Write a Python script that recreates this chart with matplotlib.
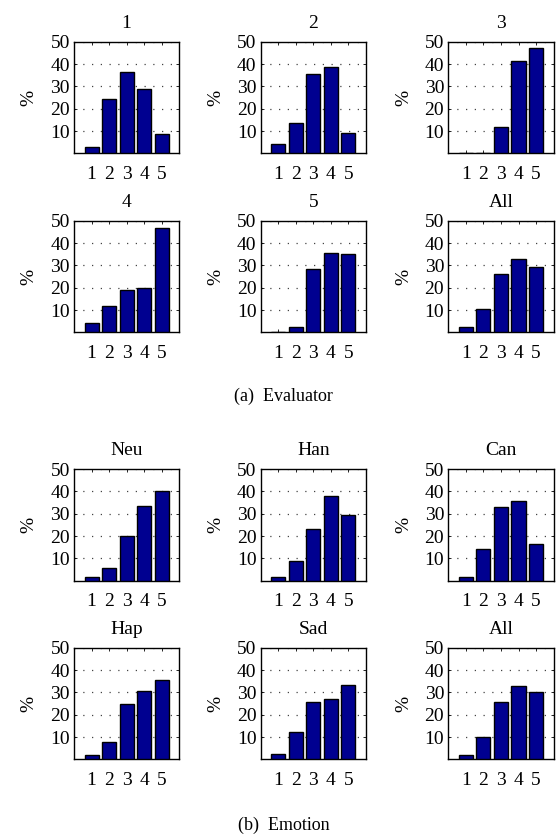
import matplotlib
matplotlib.use("Agg")
import matplotlib.pyplot as plt
import numpy as np

plt.rcParams['font.family'] = ['Liberation Serif', 'DejaVu Serif']
plt.rcParams['mathtext.fontset'] = 'stix'

categories = [1, 2, 3, 4, 5]

evaluator_titles = ["1", "2", "3", "4", "5", "All"]
ev_1 = [3.0, 24.3, 36.3, 28.7, 8.8]
ev_2 = [4.2, 13.6, 35.5, 38.8, 9.1]
ev_3 = [0.1, 0.3, 11.8, 41.5, 47.0]
ev_4 = [4.2, 11.6, 19.0, 19.7, 46.6]
ev_5 = [0.1, 2.4, 28.4, 35.4, 34.9]
ev_all = [2.4, 10.4, 26.1, 32.8, 29.4]

emotion_titles = ["Neu", "Han", "Can", "Hap", "Sad", "All"]
em_neu = [1.6, 5.5, 20.1, 33.6, 40.0]
em_han = [1.6, 9.0, 23.1, 37.8, 29.4]
em_can = [1.6, 14.0, 33.1, 35.7, 16.6]
em_hap = [2.1, 7.9, 24.8, 30.4, 35.4]
em_sad = [2.4, 12.2, 25.8, 27.2, 33.4]
em_all = [1.8, 10.1, 25.8, 32.8, 30.1]

yticks = [10, 20, 30, 40, 50]

W, H = 558, 836
fig = plt.figure(figsize=(W / 100, H / 100), dpi=100)

col_left = [74, 260.7, 448.3]
ax_w = 105.3
row_top = [41.7, 220.7, 469.0, 647.7]
ax_h = 111.7

panels = [
    (evaluator_titles[0], ev_1), (evaluator_titles[1], ev_2), (evaluator_titles[2], ev_3),
    (evaluator_titles[3], ev_4), (evaluator_titles[4], ev_5), (evaluator_titles[5], ev_all),
    (emotion_titles[0], em_neu), (emotion_titles[1], em_han), (emotion_titles[2], em_can),
    (emotion_titles[3], em_hap), (emotion_titles[4], em_sad), (emotion_titles[5], em_all),
]

fs = 14
for i, (title, vals) in enumerate(panels):
    r, c = divmod(i, 3)
    x0 = col_left[c] / W
    y0 = 1 - (row_top[r] + ax_h) / H
    ax = fig.add_axes([x0, y0, ax_w / W, ax_h / H])
    ax.bar(categories, vals, width=0.8, color='#000090', edgecolor='black', linewidth=1.0, zorder=3)
    ax.set_xlim(0, 6)
    ax.set_ylim(0, 50)
    ax.set_xticks(categories)
    ax.set_yticks(yticks)
    ax.tick_params(direction='in', length=2.5, width=0.6, top=True, right=True,
                   labelsize=fs)
    ax.tick_params(axis='x', pad=9)
    ax.tick_params(axis='y', pad=3)
    ax.yaxis.grid(True, linestyle=(0, (1, 6)), color='#444444', linewidth=0.9, zorder=1)
    for s in ax.spines.values():
        s.set_linewidth(1.0)
    ax.set_title(title, fontsize=fs, pad=10)
    ax.set_ylabel('%', fontsize=fs, labelpad=9)

fig.text(0.508, 1 - 396 / H, '(a)  Evaluator', ha='center', va='center', fontsize=13)
fig.text(0.508, 1 - 825 / H, '(b)  Emotion', ha='center', va='center', fontsize=13)

fig.savefig('out.png', dpi=100)
